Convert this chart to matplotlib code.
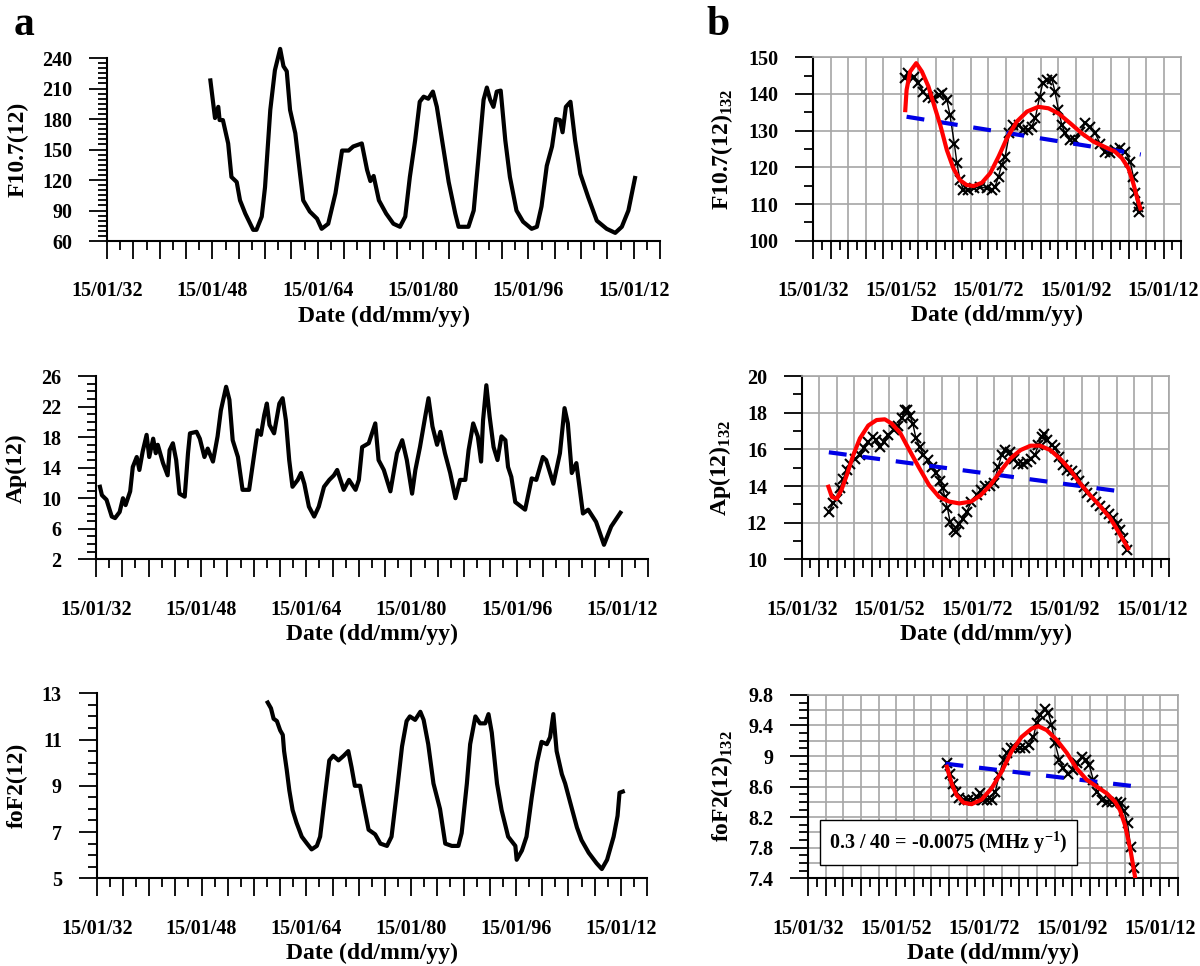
import numpy as np
import matplotlib
matplotlib.use("Agg")
import matplotlib.pyplot as plt
from matplotlib.ticker import MultipleLocator, FixedLocator, FuncFormatter

plt.rcParams['font.family'] = ['Liberation Serif', 'DejaVu Serif']
plt.rcParams['font.weight'] = 'bold'
plt.rcParams['axes.labelweight'] = 'bold'
plt.rcParams['mathtext.fontset'] = 'custom'
plt.rcParams['mathtext.rm'] = 'Liberation Serif'
plt.rcParams['mathtext.bf'] = 'Liberation Serif:bold'

# ---- panel a : 12-month running means (decimal year, value) ----
f107_years = [1947.7, 1948.4, 1948.9, 1949.1, 1949.6, 1950.4, 1950.9, 1951.7, 1952.2, 1953.0,
              1954.2, 1954.7, 1955.5, 1956.0, 1956.8, 1957.5, 1958.3, 1958.8, 1959.3, 1959.8,
              1960.6, 1961.3, 1961.8, 1962.8, 1963.9, 1964.6, 1965.6, 1966.7, 1967.7, 1968.7,
              1969.4, 1970.7, 1971.5, 1972.0, 1972.5, 1973.3, 1974.4, 1975.5, 1976.5, 1977.3,
              1978.0, 1978.8, 1979.5, 1980.1, 1980.8, 1981.5, 1982.1, 1982.9, 1983.9, 1984.9,
              1985.4, 1986.9, 1987.7, 1988.4, 1989.2, 1989.7, 1990.2, 1990.7, 1991.2, 1991.8,
              1992.5, 1993.2, 1994.2, 1995.2, 1996.5, 1997.3, 1998.0, 1998.8, 1999.6, 2000.2,
              2000.8, 2001.2, 2001.7, 2002.4, 2003.1, 2003.9, 2005.1, 2006.4, 2007.9, 2009.2,
              2010.2, 2011.2, 2012.2]
f107_vals = [218, 181, 192, 179, 179, 156, 123, 118, 100, 87,
             71, 71, 84, 113, 189, 228, 249, 232, 227, 189,
             166, 127, 100, 89, 82, 72, 77, 107, 149, 149,
             153, 156, 130, 119, 124, 100, 87, 77, 74, 84,
             123, 159, 197, 202, 200, 207, 192, 159, 118, 87,
             74, 74, 90, 140, 199, 211, 199, 192, 207, 208,
             159, 123, 90, 79, 72, 74, 94, 134, 153, 180,
             179, 167, 192, 197, 159, 126, 103, 80, 72, 68,
             74, 90, 122]

ap_years = [1932.6, 1932.9, 1933.6, 1934.4, 1934.9, 1935.6, 1936.1, 1936.5, 1937.2, 1937.6,
            1938.2, 1938.6, 1939.1, 1939.7, 1940.1, 1940.7, 1941.1, 1941.4, 1942.2, 1942.9,
            1943.2, 1943.7, 1944.2, 1944.7, 1945.5, 1946.0, 1946.3, 1947.3, 1947.8, 1948.5,
            1949.0, 1949.8, 1950.5, 1951.0, 1951.8, 1952.3, 1952.8, 1953.6, 1954.3, 1955.3,
            1956.1, 1956.6, 1957.1, 1957.6, 1958.0, 1958.4, 1959.1, 1959.9, 1960.4, 1960.9,
            1961.4, 1961.9, 1962.7, 1963.2, 1963.7, 1964.4, 1965.2, 1965.9, 1966.7, 1967.5,
            1968.2, 1968.7, 1969.7, 1970.5, 1971.5, 1972.0, 1972.5, 1973.5, 1974.5, 1975.0,
            1975.8, 1976.8, 1977.8, 1978.6, 1979.3, 1980.1, 1980.6, 1981.3, 1982.1, 1982.6,
            1983.2, 1983.9, 1984.4, 1985.1, 1985.9, 1986.7, 1987.4, 1988.2, 1988.7, 1989.4,
            1990.1, 1990.6, 1990.9, 1991.4, 1991.9, 1992.5, 1993.1, 1993.7, 1994.3, 1994.7,
            1995.2, 1995.8, 1997.3, 1998.3, 1999.0, 2000.0, 2000.5, 2001.6, 2002.6, 2003.3,
            2003.8, 2004.4, 2005.1, 2005.6, 2006.1, 2006.9, 2008.1, 2009.3, 2010.4, 2011.8]
ap_vals = [11.5, 10.4, 9.8, 7.6, 7.4, 8.2, 10.0, 9.1, 10.9, 14.1,
           15.4, 13.7, 16.1, 18.3, 15.4, 17.8, 15.9, 17.0, 14.6, 13.0,
           16.3, 17.2, 15.0, 10.6, 10.2, 15.9, 18.5, 18.7, 17.8, 15.4,
           16.5, 14.8, 18.1, 21.5, 24.6, 22.9, 17.6, 15.4, 11.1, 11.1,
           15.9, 18.9, 18.3, 20.9, 22.4, 19.6, 18.5, 22.4, 23.1, 20.2,
           15.0, 11.5, 12.4, 13.3, 11.9, 8.9, 7.6, 8.9, 11.5, 12.4,
           13.0, 13.7, 11.1, 12.4, 11.1, 12.4, 16.7, 17.2, 19.8, 15.0,
           13.7, 10.9, 15.9, 17.6, 15.0, 10.6, 13.7, 16.7, 20.7, 23.1,
           19.4, 17.0, 18.7, 15.9, 13.3, 10.0, 12.4, 12.4, 16.3, 19.8,
           18.1, 14.8, 20.2, 24.8, 20.7, 16.7, 15.0, 18.1, 17.6, 14.1,
           12.8, 9.5, 8.5, 12.6, 12.4, 15.4, 15.0, 11.9, 15.9, 21.8,
           19.8, 13.3, 14.6, 11.3, 8.0, 8.5, 6.9, 3.9, 6.3, 8.1]

fof2_years = [1958.1, 1958.6, 1959.0, 1959.5, 1960.0, 1960.4, 1960.6, 1961.0, 1961.4, 1961.9,
              1962.5, 1963.3, 1964.1, 1964.8, 1965.6, 1966.1, 1966.9, 1967.5, 1968.1, 1968.9,
              1969.7, 1970.4, 1970.9, 1971.4, 1972.2, 1972.7, 1973.5, 1974.5, 1975.3, 1976.3,
              1977.0, 1977.8, 1978.6, 1979.3, 1979.8, 1980.6, 1981.4, 1981.9, 1982.6, 1983.4,
              1984.4, 1985.2, 1986.2, 1987.2, 1987.7, 1988.5, 1989.0, 1989.8, 1990.5, 1991.3,
              1991.8, 1992.3, 1993.1, 1993.8, 1994.8, 1995.9, 1996.1, 1996.9, 1997.6, 1998.4,
              1999.2, 1999.9, 2000.7, 2001.2, 2001.7, 2002.2, 2003.0, 2003.5, 2004.3, 2005.3,
              2006.0, 2007.1, 2008.3, 2009.1, 2009.9, 2010.9, 2011.5, 2011.8, 2012.3]
fof2_vals = [12.6, 12.35, 11.9, 11.8, 11.4, 11.2, 10.5, 9.7, 8.8, 7.95,
             7.4, 6.8, 6.5, 6.25, 6.4, 6.8, 8.7, 10.1, 10.3, 10.1,
             10.3, 10.5, 9.8, 9.0, 9.0, 8.25, 7.1, 6.9, 6.5, 6.4,
             6.8, 8.7, 10.7, 11.8, 12.0, 11.85, 12.2, 11.85, 10.8, 9.1,
             8.0, 6.5, 6.4, 6.4, 6.95, 9.1, 10.8, 12.0, 11.7, 11.7,
             12.1, 11.3, 9.1, 7.95, 6.8, 6.4, 5.8, 6.2, 6.8, 8.5,
             10.0, 10.9, 10.8, 11.1, 12.1, 10.5, 9.5, 9.1, 8.25, 7.2,
             6.65, 6.1, 5.65, 5.4, 5.8, 6.8, 7.7, 8.7, 8.75]

# ---- panel b : 132-month running means, polynomial fit, linear trend ----
f107m_years = [1952.95, 1953.7, 1954.9, 1956.0, 1957.1, 1958.3, 1959.4, 1960.6, 1961.3, 1962.5,
               1963.2, 1964.2, 1964.8, 1965.5, 1966.3, 1967.4, 1968.6, 1970.1, 1971.6, 1972.8,
               1973.5, 1974.3, 1975.0, 1975.8, 1976.8, 1977.7, 1978.9, 1980.0, 1981.1, 1981.9,
               1982.7, 1983.7, 1984.4, 1985.3, 1986.5, 1987.2, 1988.0, 1988.8, 1989.5, 1990.7,
               1991.8, 1993.0, 1994.1, 1995.2, 1996.4, 1997.5, 1998.7, 1999.8, 2000.9, 2002.1,
               2003.2, 2004.4, 2005.1, 2005.5, 2006.1, 2006.5]
f107m_vals = [144.3, 145.6, 144.7, 142.9, 140.6, 139.3, 138.8, 139.7, 140.4, 138.4,
              134.3, 126.5, 121.1, 116.5, 113.8, 113.8, 114.3, 114.7, 114.3, 113.8,
              114.7, 117.5, 120.6, 122.9, 129.3, 131.5, 131.5, 130.2, 130.2, 131.1,
              133.4, 139.3, 142.9, 143.8, 144.0, 140.6, 135.6, 131.5, 129.3, 127.5,
              127.5, 129.7, 132.0, 131.1, 129.3, 126.5, 124.3, 123.8, 124.7, 125.2,
              124.3, 121.5, 117.5, 112.9, 109.3, 107.7]
f107fit_years = [1953.0, 1953.3, 1954.1, 1955.5, 1956.8, 1958.3, 1959.8, 1961.0, 1962.5, 1964.0,
                 1965.5, 1967.0, 1968.6, 1970.5, 1972.4, 1974.3, 1976.2, 1978.5, 1980.8, 1983.4,
                 1985.7, 1988.0, 1990.7, 1993.3, 1996.0, 1998.7, 2000.9, 2002.5, 2004.0, 2005.1,
                 2005.9, 2006.7]
f107fit_vals = [135.6, 141.1, 146.1, 148.4, 146.1, 142.0, 136.1, 131.5, 124.7, 119.7,
                116.5, 115.2, 114.9, 115.8, 118.4, 122.9, 127.9, 132.5, 135.2, 136.5,
                136.1, 134.7, 132.0, 129.3, 127.0, 125.5, 124.3, 122.5, 119.7, 115.6,
                112.0, 108.8]
f107trend_years = [1953.3, 2006.8]
f107trend_vals = [133.8, 123.5]

apm_years = [1938.2, 1939.2, 1940.0, 1940.8, 1941.5, 1942.3, 1943.0, 1944.2, 1945.3, 1946.2,
             1947.2, 1948.2, 1949.0, 1949.9, 1950.7, 1951.8, 1953.0, 1953.9, 1954.9, 1955.6,
             1956.1, 1956.8, 1957.4, 1958.1, 1959.0, 1959.8, 1960.9, 1961.7, 1962.8, 1963.6,
             1964.2, 1964.7, 1965.3, 1965.9, 1966.7, 1967.3, 1968.0, 1968.8, 1969.7, 1970.8,
             1972.0, 1972.9, 1973.9, 1975.0, 1975.9, 1976.9, 1977.7, 1978.5, 1979.6, 1980.5,
             1981.5, 1982.5, 1983.4, 1984.3, 1985.3, 1986.1, 1986.8, 1987.4, 1988.1, 1989.1,
             1989.9, 1990.9, 1991.8, 1992.7, 1993.7, 1994.7, 1995.4, 1996.4, 1997.1, 1998.3,
             1999.2, 2000.2, 2001.3, 2002.3, 2003.2, 2004.0, 2004.7, 2005.5, 2006.4]
apm_vals = [12.6, 13.05, 13.3, 13.9, 14.4, 14.9, 15.2, 15.5, 15.7, 16.05,
            16.4, 16.7, 16.5, 16.15, 16.4, 16.8, 17.05, 17.3, 17.7, 18.15,
            18.15, 17.8, 17.4, 16.6, 16.15, 15.7, 15.4, 15.05, 14.7, 14.3,
            13.9, 13.4, 12.8, 12.05, 11.6, 11.5, 11.9, 12.2, 12.6, 13.15,
            13.5, 13.8, 14.0, 14.0, 14.15, 15.05, 15.7, 15.95, 15.85, 15.5,
            15.2, 15.2, 15.3, 15.5, 15.7, 16.25, 16.7, 16.85, 16.5, 16.25,
            16.05, 15.6, 15.15, 14.9, 14.8, 14.6, 14.3, 13.95, 13.6, 13.4,
            13.15, 12.9, 12.7, 12.5, 12.25, 11.95, 11.6, 11.15, 10.5]
apfit_years = [1938.1, 1938.9, 1940.0, 1941.1, 1942.3, 1943.8, 1945.3, 1947.2, 1949.1, 1951.0,
               1952.6, 1954.5, 1956.4, 1958.7, 1961.1, 1963.4, 1965.7, 1968.0, 1970.7, 1972.9,
               1975.1, 1977.4, 1979.7, 1982.0, 1984.3, 1986.5, 1988.8, 1991.0, 1993.3, 1995.6,
               1997.9, 2000.2, 2002.5, 2004.4, 2005.5, 2006.6]
apfit_vals = [13.96, 13.4, 13.3, 13.8, 14.6, 15.7, 16.6, 17.3, 17.6, 17.64,
              17.4, 16.9, 16.05, 15.05, 14.05, 13.4, 13.15, 13.05, 13.15, 13.5,
              14.05, 14.8, 15.5, 15.96, 16.2, 16.2, 15.96, 15.5, 14.9, 14.15,
              13.5, 12.9, 12.25, 11.5, 11.05, 10.6]
aptrend_years = [1938.2, 2006.6]
aptrend_vals = [15.84, 13.65]

fof2m_years = [1963.5, 1964.2, 1964.8, 1965.5, 1966.3, 1967.3, 1968.4, 1969.5, 1970.4, 1971.0,
               1971.8, 1972.7, 1973.7, 1974.5, 1975.4, 1976.4, 1977.1, 1978.0, 1979.0, 1980.1,
               1981.3, 1982.3, 1983.2, 1983.9, 1984.8, 1985.8, 1986.6, 1987.3, 1988.1, 1989.1,
               1990.0, 1991.1, 1992.3, 1993.2, 1994.2, 1995.2, 1995.9, 1996.8, 1997.7, 1998.7,
               1999.9, 2001.0, 2002.1, 2003.0, 2003.8, 2004.6, 2005.3, 2006.1]
fof2m_vals = [8.905, 8.77, 8.64, 8.53, 8.45, 8.43, 8.43, 8.43, 8.47, 8.51,
              8.43, 8.43, 8.43, 8.53, 8.75, 8.95, 9.04, 9.1, 9.1, 9.1,
              9.1, 9.15, 9.25, 9.43, 9.54, 9.62, 9.56, 9.41, 9.17, 8.95,
              8.84, 8.77, 8.82, 8.905, 8.99, 8.95, 8.88, 8.69, 8.53, 8.43,
              8.40, 8.40, 8.40, 8.38, 8.28, 8.12, 7.81, 7.53]
fof2fit_years = [1963.5, 1964.6, 1965.7, 1967.3, 1969.1, 1971.4, 1973.7, 1976.0, 1978.2, 1980.5,
                 1982.8, 1984.3, 1986.2, 1988.5, 1990.8, 1993.0, 1995.3, 1997.6, 1999.9, 2001.8,
                 2002.9, 2004.0, 2005.2, 2006.3]
fof2fit_vals = [8.86, 8.64, 8.49, 8.39, 8.37, 8.43, 8.58, 8.80, 9.06, 9.25,
                9.36, 9.39, 9.34, 9.21, 9.04, 8.84, 8.69, 8.60, 8.51, 8.40,
                8.29, 8.10, 7.79, 7.42]
fof2trend_years = [1963.2, 2006.8]
fof2trend_vals = [8.90, 8.60]

trend_text = '0.3 / 40 = -0.0075 (MHz y$^{\\mathrm{-1}}$)'


def year_fmt(step):
    # only every 'step' years gets a 15/01/yy label
    def f(v, pos):
        y = int(round(v))
        if (y - 1932) % step == 0:
            return '15/01/%02d' % (y % 100)
        return ''
    return FuncFormatter(f)


def style(ax, ylim, ymajor, yminor, label_step, grid=False):
    ax.set_xlim(1932, 2016)
    ax.set_ylim(*ylim)
    ax.xaxis.set_major_locator(MultipleLocator(4))
    ax.xaxis.set_minor_locator(MultipleLocator(2))
    ax.xaxis.set_major_formatter(year_fmt(label_step))
    ax.yaxis.set_major_locator(FixedLocator(ymajor))
    ax.yaxis.set_minor_locator(MultipleLocator(yminor))
    ax.yaxis.set_major_formatter(FuncFormatter(lambda v, p: '%g' % round(v, 2)))
    ax.tick_params(which='major', direction='out', length=13, width=1.3, labelsize=14.5)
    ax.tick_params(which='minor', direction='out', length=6.5, width=1.3)
    ax.tick_params(axis='x', which='major', pad=16)
    ax.tick_params(axis='y', which='major', pad=12)
    for s in ['left', 'bottom']:
        ax.spines[s].set_linewidth(1.5)
    if grid:
        ax.set_axisbelow(True)
        ax.xaxis.grid(True, which='major', color='#a6a6a6', lw=1.2)
        ax.yaxis.grid(True, which='major', color='#a6a6a6', lw=1.2)
        for s in ['top', 'right']:
            ax.spines[s].set_color('#a6a6a6')
            ax.spines[s].set_linewidth(1.2)
    else:
        ax.spines['top'].set_visible(False)
        ax.spines['right'].set_visible(False)
    ax.set_xlabel('Date (dd/mm/yy)', fontsize=17, labelpad=3)


fig = plt.figure(figsize=(12, 9.66), dpi=100)

# left column (the 1958 F10.7 peak runs above the axis top, as in the original)
ax1 = fig.add_axes([0.0892, 0.7505, 0.4608, 0.1894])
ax1.plot(f107_years, f107_vals, color='black', lw=3, clip_on=False)
style(ax1, (60, 240), np.arange(60, 241, 30), 5, 16)
ax1.set_ylabel('F10.7(12)', fontsize=17, labelpad=10)

ax2 = fig.add_axes([0.08, 0.421, 0.46, 0.1897])
ax2.plot(ap_years, ap_vals, color='black', lw=3)
style(ax2, (2, 26), np.arange(2, 27, 4), 1, 16)
ax2.set_ylabel('Ap(12)', fontsize=17, labelpad=10)

ax3 = fig.add_axes([0.0806, 0.0908, 0.4586, 0.1915])
ax3.plot(fof2_years, fof2_vals, color='black', lw=3)
style(ax3, (5, 13), np.arange(5, 13.1, 2), 0.5, 16)
ax3.set_ylabel('foF2(12)', fontsize=17, labelpad=10)

# right column
mk = dict(color='black', lw=1, marker='x', ms=6.5, mew=1.5, zorder=3)
red = dict(color='#ff0000', lw=3, zorder=5)
blue = dict(color='#0000e6', lw=3, dashes=(4.3, 3.8), zorder=4)

bx1 = fig.add_axes([0.6778, 0.7508, 0.3064, 0.1899])
bx1.plot(f107m_years, f107m_vals, **mk)
bx1.plot(f107trend_years, f107trend_vals, **blue)
bx1.plot(f107fit_years, f107fit_vals, **red)
style(bx1, (100, 150), np.arange(100, 151, 10), 5, 20, grid=True)
bx1.set_ylabel('F10.7(12)$_{\\mathrm{132}}$', fontsize=17, labelpad=10)

bx2 = fig.add_axes([0.6681, 0.421, 0.3063, 0.1897])
bx2.plot(apm_years, apm_vals, **mk)
bx2.plot(aptrend_years, aptrend_vals, **blue)
bx2.plot(apfit_years, apfit_vals, **red)
style(bx2, (10, 20), np.arange(10, 21, 2), 1, 20, grid=True)
bx2.set_ylabel('Ap(12)$_{\\mathrm{132}}$', fontsize=17, labelpad=10)

bx3 = fig.add_axes([0.6736, 0.0908, 0.3078, 0.1898])
bx3.plot(fof2m_years, fof2m_vals, **mk)
bx3.plot(fof2trend_years, fof2trend_vals, **blue)
bx3.plot(fof2fit_years, fof2fit_vals, **red)
style(bx3, (7.4, 9.8), np.arange(7.4, 9.81, 0.4), 0.1, 20, grid=True)
# gridlines also sit halfway between the labelled values
for v in np.arange(7.6, 9.7, 0.4):
    bx3.axhline(v, color='#a6a6a6', lw=1.2, zorder=0.5)
bx3.set_ylabel('foF2(12)$_{\\mathrm{132}}$', fontsize=17, labelpad=10)
bx3.text(0.38, 0.195, trend_text, transform=bx3.transAxes, fontsize=14.5,
         ha='center', va='center', zorder=6,
         bbox=dict(boxstyle='square,pad=0.45', fc='white', ec='black', lw=1))

fig.text(0.011, 0.9638, 'a', fontsize=30, fontweight='bold', va='baseline')
fig.text(0.589, 0.9638, 'b', fontsize=30, fontweight='bold', va='baseline')

fig.savefig('out.png', dpi=100)
